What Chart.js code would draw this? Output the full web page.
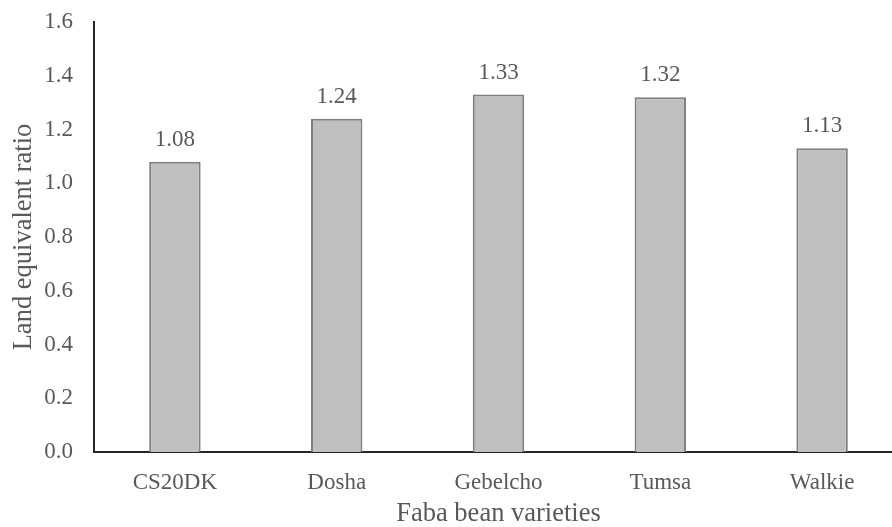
<!DOCTYPE html>
<html>
<head>
<meta charset="utf-8">
<script src="https://cdn.jsdelivr.net/npm/chart.js@4/dist/chart.umd.min.js"></script>
<style>
  html, body { margin: 0; padding: 0; background: #fff; overflow: hidden; }
  #wrap { width: 892px; height: 527px; overflow: hidden; position: relative; }
  canvas { display: block; }
</style>
</head>
<body>
<div id="wrap"><canvas id="c" width="903" height="527"></canvas></div>
<script>
// Land equivalent ratio per faba bean variety
const varieties = ['CS20DK', 'Dosha', 'Gebelcho', 'Tumsa', 'Walkie'];
const lerValues = [1.08, 1.24, 1.33, 1.32, 1.13];
const yTicks = [0, 0.2, 0.4, 0.6, 0.8, 1.0, 1.2, 1.4, 1.6];

const FONT = '"Liberation Serif", "Times New Roman", serif';
const TEXT = '#595959';
const AXIS = '#262626';

// Writes each bar's value just above it
const valueLabels = {
  id: 'valueLabels',
  afterDatasetsDraw(chart) {
    const ctx = chart.ctx;
    const meta = chart.getDatasetMeta(0);
    ctx.save();
    ctx.font = '23px ' + FONT;
    ctx.fillStyle = TEXT;
    ctx.textAlign = 'center';
    ctx.textBaseline = 'alphabetic';
    meta.data.forEach((bar, i) => {
      const v = chart.data.datasets[0].data[i];
      ctx.fillText(v.toFixed(2), bar.x, bar.y - 16);
    });
    ctx.restore();
  }
};

new Chart(document.getElementById('c'), {
  type: 'bar',
  data: {
    labels: varieties,
    datasets: [{
      data: lerValues,
      backgroundColor: '#BFBFBF',
      borderColor: '#7F7F7F',
      borderWidth: 2,
      borderSkipped: 'start',
      barPercentage: 0.318,
      categoryPercentage: 1.0
    }]
  },
  options: {
    responsive: false,
    animation: false,
    devicePixelRatio: 1,
    layout: { padding: { top: 22, right: 0, bottom: 0, left: 0 } },
    plugins: {
      legend: { display: false },
      tooltip: { enabled: false }
    },
    scales: {
      x: {
        grid: { display: false, drawTicks: false },
        border: { display: true, color: AXIS, width: 2 },
        ticks: {
          color: TEXT,
          font: { family: FONT, size: 23 },
          padding: 17,
          maxRotation: 0
        },
        title: {
          display: true,
          text: 'Faba bean varieties',
          color: TEXT,
          font: { family: FONT, size: 26.5, lineHeight: 1.0 },
          padding: { top: 0, bottom: 0 }
        },
        afterFit(scale) {
          scale.height = 75;
          scale.paddingLeft = 0;
          scale.paddingRight = 0;
        }
      },
      y: {
        min: 0,
        max: 1.6,
        grid: { display: false, drawTicks: false },
        border: { display: true, color: AXIS, width: 2 },
        afterBuildTicks(scale) { scale.ticks = yTicks.map(v => ({ value: v })); },
        ticks: {
          color: TEXT,
          font: { family: FONT, size: 23 },
          padding: 21,
          callback: v => Number(v).toFixed(1)
        },
        title: {
          display: true,
          text: 'Land equivalent ratio',
          color: TEXT,
          font: { family: FONT, size: 26.5 },
          padding: { top: 8, bottom: 0 }
        },
        afterFit(scale) {
          scale.width = 94;
          scale.paddingTop = 0;
          scale.paddingBottom = 0;
        }
      }
    }
  },
  plugins: [valueLabels]
});
</script>
</body>
</html>
